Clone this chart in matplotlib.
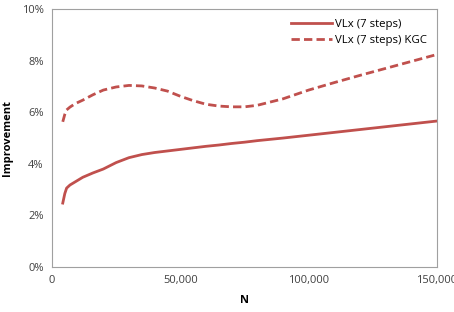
import numpy as np
import matplotlib.pyplot as plt
from matplotlib.ticker import FuncFormatter

plt.rcParams['font.family'] = ['Open Sans', 'DejaVu Sans']

# data
n_vals = [4200, 5000, 5700, 7000, 9000, 12000, 16000, 20000, 25000, 30000, 35000, 40000,
          45000, 50000, 55000, 60000, 65000, 70000, 75000, 80000, 90000, 100000,
          110000, 120000, 130000, 140000, 150000]
vlx = [2.48, 2.85, 3.06, 3.18, 3.3, 3.48, 3.65, 3.8, 4.05, 4.24, 4.36, 4.44,
       4.5, 4.56, 4.62, 4.68, 4.73, 4.79, 4.84, 4.9, 5.0, 5.11,
       5.22, 5.33, 5.44, 5.55, 5.66]
vlx_kgc = [5.63, 5.92, 6.09, 6.2, 6.33, 6.47, 6.68, 6.86, 6.98, 7.04, 7.02, 6.94,
           6.82, 6.62, 6.45, 6.31, 6.24, 6.21, 6.21, 6.27, 6.52, 6.86,
           7.15, 7.43, 7.7, 7.97, 8.24]

red = '#C0504D'

fig = plt.figure(figsize=(4.54, 3.12), dpi=100)
ax = fig.add_axes([0.1145, 0.144, 0.848, 0.827])

ax.plot(n_vals, vlx, color=red, lw=2.0, label='VLx (7 steps)')
ax.plot(n_vals, vlx_kgc, color=red, lw=2.0, ls=(0, (3, 1.5)), label='VLx (7 steps) KGC')

ax.set_xlim(0, 150000)
ax.set_ylim(0, 10)
ax.set_xticks([0, 50000, 100000, 150000])
ax.set_yticks([0, 2, 4, 6, 8, 10])
ax.xaxis.set_major_formatter(FuncFormatter(lambda v, p: f'{int(v):,}'))
ax.yaxis.set_major_formatter(FuncFormatter(lambda v, p: f'{int(v)}%'))
ax.tick_params(length=0, labelsize=8, colors='#404040', pad=6)

for s in ax.spines.values():
    s.set_color('#a0a0a0')
    s.set_linewidth(0.8)

ax.set_xlabel('N', fontsize=8, fontweight='bold', labelpad=6)
ax.set_ylabel('Improvement', fontsize=8, fontweight='bold', labelpad=6)

ax.legend(loc='upper right', frameon=False, fontsize=8.2, handlelength=3.6,
          handletextpad=0.25, borderaxespad=0.5, labelspacing=0.4,
          bbox_to_anchor=(1.0, 1.0))

fig.savefig('out.png', dpi=100)
